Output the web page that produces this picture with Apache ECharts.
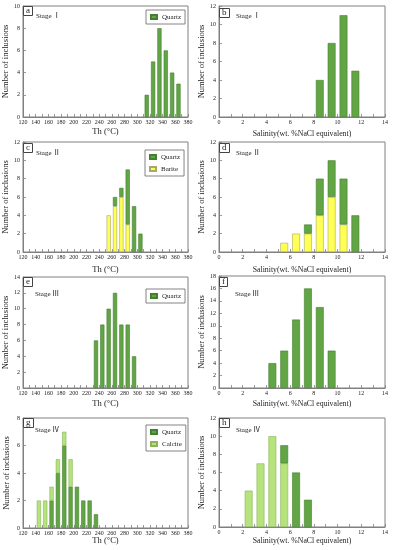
<!DOCTYPE html>
<html><head><meta charset="utf-8">
<script src="https://cdn.jsdelivr.net/npm/echarts@6/dist/echarts.min.js"></script>
<style>html,body{margin:0;padding:0;background:#fff}#c{width:393px;height:550px}</style>
</head><body><div id="c"></div>
<script>
// ---- data ----
const thBinStarts = [120,130,140,150,160,170,180,190,200,210,220,230,240,250,260,270,280,290,300,310,320,330,340,350,360,370];
const salBinStarts = [0,1,2,3,4,5,6,7,8,9,10,11,12,13];
const thAxisTicks = [120, 380, 20];
const salAxisTicks = [0, 14, 2];

const aBins = [310,320,330,340,350,360];
const aQuartz = [2,5,8,6,4,3];
const bBins = [8,9,10,11];
const bQuartz = [4,8,11,5];
const cBins = [250,260,270,280,290,300];
const cBarite = [4,5,6,3,0,0];
const cQuartz = [0,1,1,6,5,2];
const dBins = [5,6,7,8,9,10,11];
const dBarite = [1,2,2,4,6,3,0];
const dQuartz = [0,0,1,4,4,5,4];
const eBins = [230,240,250,260,270,280,290];
const eQuartz = [6,8,10,12,8,8,4];
const fBins = [4,5,6,7,8,9];
const fQuartz = [4,6,11,16,13,6];
const gBins = [140,150,160,170,180,190,200,210,220,230];
const gQuartz = [0,0,2,4,6,3,3,2,2,1];
const gCalcite = [2,2,1,1,1,2,0,0,0,0];
const hBins = [2,3,4,5,6,7];
const hCalcite = [4,7,10,7,0,0];
const hQuartz = [0,0,0,2,6,3];

const yMaxes = [10,12,12,12,14,18,8,12];
const panelLetters = ['a','b','c','d','e','f','g','h'];
const stageNames = ['Stage \u2160','Stage \u2160','Stage \u2161','Stage \u2161','Stage \u2162','Stage \u2162','Stage \u2163','Stage \u2163'];
const thTitle = 'Th (\u00B0C)';
const salTitle = 'Salinity(wt. %NaCl equivalent)';
const yTitle = 'Number of inclusions';

// ---- layout / styles ----
const FONT = '"Liberation Serif","Noto Sans CJK SC",serif';
const TXT = '#222';
const LINE = '#808080';
const colors = { Quartz: '#62a545', Barite: '#ffff55', Calcite: '#b6e37c' };
const borders = { Quartz: '#43802f', Barite: '#a8a86a', Calcite: '#8ab35a' };

const grids = [
  {left:23, top:6, width:165, height:111},
  {left:219, top:6, width:166, height:111},
  {left:23, top:142, width:165, height:110},
  {left:219, top:142, width:166, height:110},
  {left:23, top:277, width:165, height:111},
  {left:219, top:276, width:166, height:112},
  {left:23, top:418, width:165, height:110},
  {left:219, top:418, width:166, height:109}
];
const nameGaps = [11,13,14,14,12,12,9,10];
const letterTops = [6,8,143,143,277,277,418,418];
const stagePos = [[36,12],[236,12],[36,149],[236,149],[35,290],[235,290],[35,426],[236,426]];
const legendPos = [[146,10],null,[145,150],null,[146,289],null,[146,425],null];

const panels = [
  {kind:'th', series:[['Quartz', aBins, aQuartz]], legend:['Quartz']},
  {kind:'sal', series:[['Quartz', bBins, bQuartz]]},
  {kind:'th', series:[['Barite', cBins, cBarite], ['Quartz', cBins, cQuartz]], legend:['Quartz','Barite']},
  {kind:'sal', series:[['Barite', dBins, dBarite], ['Quartz', dBins, dQuartz]]},
  {kind:'th', series:[['Quartz', eBins, eQuartz]], legend:['Quartz']},
  {kind:'sal', series:[['Quartz', fBins, fQuartz]]},
  {kind:'th', series:[['Quartz', gBins, gQuartz], ['Calcite', gBins, gCalcite]], legend:['Quartz','Calcite']},
  {kind:'sal', series:[['Calcite', hBins, hCalcite], ['Quartz', hBins, hQuartz]]}
];

const option = {
  animation: false,
  backgroundColor: '#fff',
  textStyle: {fontFamily: FONT},
  grid: grids.map(g => Object.assign({show:true, borderColor:LINE, borderWidth:1, backgroundColor:'#fff'}, g)),
  xAxis: [], yAxis: [], series: [], title: [], legend: []
};

panels.forEach((p, k) => {
  const isTh = p.kind === 'th';
  const cats = isTh ? thBinStarts : salBinStarts;
  const ticks = isTh ? thAxisTicks : salAxisTicks;
  option.xAxis.push({
    type:'category', gridIndex:k, position:'bottom', data: cats.map(String), boundaryGap:true, show:false
  });
  option.xAxis.push({
    type:'value', gridIndex:k, position:'bottom', offset:0, min:ticks[0], max:ticks[1], interval:ticks[2],
    name: isTh ? thTitle : salTitle, nameLocation:'middle', nameGap: nameGaps[k],
    nameTextStyle:{fontFamily:FONT, fontSize: isTh ? 8.5 : 7.8, color:TXT},
    axisLine:{show:true, lineStyle:{color:LINE, width:1}},
    axisTick:{show:true, inside:true, length:3, lineStyle:{color:LINE, width:0.8}},
    minorTick:{show:true, splitNumber:2, length:3, lineStyle:{color:LINE, width:0.8}},
    axisLabel:{fontFamily:FONT, fontSize:6, color:TXT, margin:2},
    splitLine:{show:false}
  });
  option.yAxis.push({
    type:'value', gridIndex:k, position:'left', min:0, max:yMaxes[k], interval:2,
    name:yTitle, nameLocation:'middle', nameGap: k % 2 === 0 ? 12 : 11,
    nameTextStyle:{fontFamily:FONT, fontSize:8.5, color:TXT},
    axisLine:{show:true, lineStyle:{color:LINE, width:1}},
    axisTick:{show:true, inside:true, length:3, lineStyle:{color:LINE, width:0.8}},
    axisLabel:{fontFamily:FONT, fontSize:6, color:TXT, margin:3},
    splitLine:{show:false}
  });
  p.series.forEach(([name, bins, vals]) => {
    option.series.push({
      type:'bar', name, xAxisIndex:2*k, yAxisIndex:k, stack:'s'+k,
      barWidth:'66%',
      data: cats.map(b => { const i = bins.indexOf(b); return (i < 0 || vals[i] === 0) ? null : vals[i]; }),
      itemStyle:{color:colors[name], borderColor:borders[name], borderWidth:0.6}
    });
  });
  option.title.push({
    text: panelLetters[k], left: grids[k].left, top: letterTops[k],
    padding:[0,3,1,3], borderColor:'#444', borderWidth:1, backgroundColor:'#fff',
    textStyle:{fontFamily:FONT, fontSize:9, fontWeight:'normal', color:TXT, lineHeight:9}
  });
  option.title.push({
    text: stageNames[k], left: stagePos[k][0], top: stagePos[k][1], padding:0,
    textStyle:{fontFamily:FONT, fontSize:7, fontWeight:'normal', color:TXT, lineHeight:8}
  });
  if (p.legend) {
    option.legend.push({
      data: p.legend, orient:'vertical', left: legendPos[k][0], top: legendPos[k][1],
      padding:[3,4,3,4], itemWidth:6, itemHeight:4, itemGap:4,
      borderColor:'#666', borderWidth:0.8, backgroundColor:'#fff', selectedMode:false,
      icon:'rect',
      textStyle:{fontFamily:FONT, fontSize:7, color:TXT, lineHeight:8}
    });
  }
});

const chart = echarts.init(document.getElementById('c'), null, {renderer:'canvas'});
chart.setOption(option);
</script>
</body></html>
